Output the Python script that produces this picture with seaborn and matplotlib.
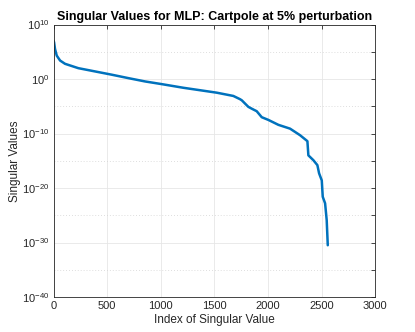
import numpy as np
import pandas as pd
import matplotlib
matplotlib.use("Agg")
import matplotlib.pyplot as plt
import matplotlib.ticker as mticker
import seaborn as sns

# Singular value spectrum (index, log10 of value)
sv_index = [1, 5, 14, 30, 61, 107, 231, 387, 543, 698, 854, 1009, 1211,
            1522, 1677, 1740, 1756, 1817, 1855, 1895, 1942, 2004, 2097,
            2206, 2299, 2368, 2377, 2424, 2461, 2477, 2502, 2511, 2533,
            2548, 2558]
sv_log10 = [7.0, 6.76, 5.5, 4.3, 3.4, 2.8, 2.0, 1.4, 0.8, 0.17, -0.44,
            -0.93, -1.6, -2.5, -3.1, -3.7, -3.9, -5.1, -5.5, -5.9, -7.0,
            -7.5, -8.4, -9.1, -10.3, -11.4, -14.0, -14.9, -15.8, -17.3,
            -18.6, -21.6, -22.8, -25.9, -30.5]

x_ticks = [0, 500, 1000, 1500, 2000, 2500, 3000]
y_major_exp = [-40, -30, -20, -10, 0, 10]
y_minor_exp = [-35, -25, -15, -5, 5]

df = pd.DataFrame({"index": sv_index, "value": 10.0 ** np.array(sv_log10)})

sns.set_theme(style="white")
plt.rcParams["font.family"] = ["Liberation Sans", "DejaVu Sans"]
plt.rcParams["mathtext.default"] = "regular"

fig = plt.figure(figsize=(4.15, 3.32), dpi=100)
ax = fig.add_axes([0.129, 0.1054, 0.775, 0.8206])

sns.lineplot(data=df, x="index", y="value", ax=ax, color="#0072BD",
             linewidth=1.8)

ax.set_yscale("log")
ax.set_xlim(0, 3000)
ax.set_ylim(1e-40, 1e10)
ax.set_xticks(x_ticks)
ax.set_yticks([10.0 ** e for e in y_major_exp])
ax.set_yticklabels([r"$10^{%d}$" % e for e in y_major_exp])
ax.yaxis.set_minor_locator(mticker.FixedLocator([10.0 ** e for e in y_minor_exp]))
ax.yaxis.set_minor_formatter(mticker.NullFormatter())

ax.grid(True, which="major", color="#e6e6e6", linewidth=0.6, linestyle="-")
ax.grid(True, which="minor", axis="y", color="#d4d4d4", linewidth=0.6,
        linestyle=(0, (1, 2.5)))
ax.set_axisbelow(True)

for s in ax.spines.values():
    s.set_visible(True)
    s.set_color("#262626")
    s.set_linewidth(0.6)

ax.tick_params(which="both", direction="in", length=3, width=0.6,
               colors="#262626", top=True, right=True, labelsize=8,
               labelcolor="#262626", pad=3)

ax.set_xlabel("Index of Singular Value", fontsize=8.5, color="#262626",
              labelpad=2)
ax.set_ylabel("Singular Values", fontsize=8.5, color="#262626", labelpad=1)
ax.set_title("Singular Values for MLP: Cartpole at 5% perturbation",
             fontsize=9, fontweight="bold", color="black", pad=3)

fig.savefig("out.png", dpi=100)
